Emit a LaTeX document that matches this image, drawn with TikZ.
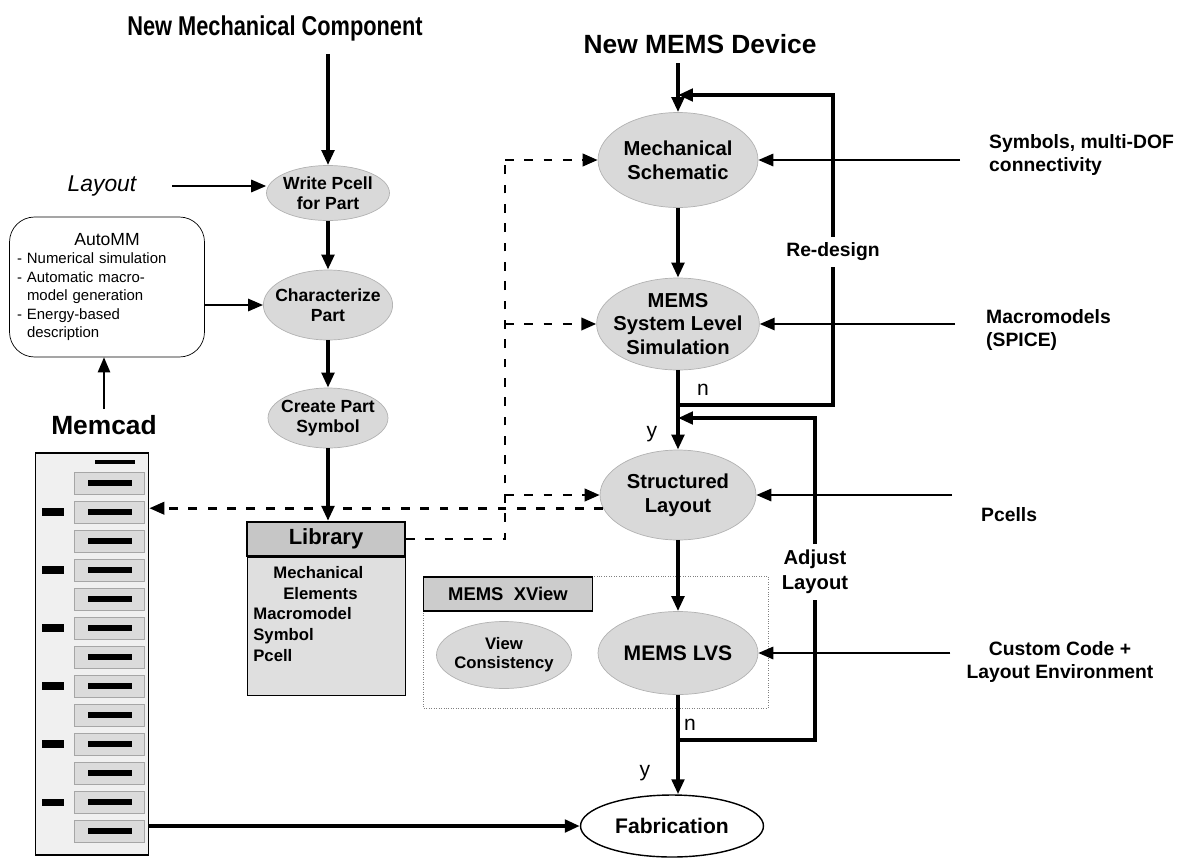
\documentclass[tikz,border=0pt]{standalone}
\usepackage{fontspec}
\setmainfont{Liberation Sans}
\usetikzlibrary{shapes.geometric,arrows.meta,positioning}

\begin{document}
\begin{tikzpicture}[x=0.02cm, y=-0.02cm,
    >={Triangle[length=8.5pt, width=7pt]},
    proc/.style = {ellipse, draw=gray!60, fill=gray!30, align=center, inner xsep=-4pt, inner ysep=-2pt, font=\bfseries\fontsize{11.5}{13.5}\selectfont},
    part/.style = {proc, font=\bfseries\fontsize{10}{11.5}\selectfont},
    side/.style = {align=left, font=\bfseries\fontsize{11}{13}\selectfont},
    yn/.style = {font=\fontsize{12}{14}\selectfont},
    flow/.style = {line width=2.3pt},
    dashlink/.style = {line width=1.6pt, dash pattern=on 5pt off 6pt}]
  \useasboundingbox (0,0) rectangle (1196,859);

  \node[font=\bfseries\fontsize{15.5}{17}\selectfont] (ttlcomp) at (275,28) {\scalebox{0.8}[1]{New Mechanical Component}};
  \node[font=\bfseries\fontsize{15}{17}\selectfont] (ttldev) at (700,44) {New MEMS Device};

  \node[part, minimum width=2.46cm, minimum height=1.1cm] (wp) at (328,193) {Write Pcell\\for Part};
  \node[part, minimum width=2.58cm, minimum height=1.4cm] (charpart) at (328,305) {Characterize\\Part};
  \node[part, minimum width=2.4cm, minimum height=1.2cm] (symb) at (328,418) {Create Part\\Symbol};
  \node[draw, fill=gray!25, minimum width=3.16cm, minimum height=2.76cm, anchor=north] (libbody) at (326,557) {};
  \node[draw, line width=1.2pt, fill=gray!45, minimum width=3.16cm, minimum height=0.68cm, anchor=south, font=\bfseries\fontsize{12.5}{14}\selectfont] (libhead) at (libbody.north) {Library};
  \node[anchor=west, align=left, inner sep=0pt, font=\bfseries\fontsize{9.5}{11.9}\selectfont] (libtext) at (253,614) {\hspace*{0.4cm}Mechanical\\\hspace*{0.6cm}Elements\\Macromodel\\Symbol\\Pcell};

  \node[font=\itshape\fontsize{13}{15}\selectfont] (layout) at (102,186) {Layout};
  \node[draw, rounded corners=0.5cm, minimum width=3.9cm, minimum height=2.8cm, text width=3.6cm, align=left, font=\fontsize{8.5}{10.5}\selectfont] (automm) at (107,287)
    {\makebox[3.6cm]{\fontsize{10}{12}\selectfont AutoMM}\\- Numerical simulation\\- Automatic macro-\\\hspace*{0.2cm}model generation\\- Energy-based\\\hspace*{0.2cm}description};
  \node[font=\bfseries\fontsize{15}{17}\selectfont] (memcad) at (104,425) {Memcad};

  \node[draw, line width=1pt, fill=gray!12, minimum width=2.26cm, minimum height=8.04cm] (panel) at (92,654) {};
  \draw[line width=2.5pt] (95,462) -- (135,462);
  \foreach \r in {0,...,12} {
    \draw[gray!70, fill=gray!28] (74,472+29*\r) rectangle (144,494+29*\r);
    \draw[line width=3pt] (88,483+29*\r) -- (132,483+29*\r);
  }
  \foreach \r in {1,3,...,11} \draw[line width=4pt] (42,483+29*\r) -- (64,483+29*\r);

  \node[proc, minimum width=3.2cm, minimum height=1.9cm] (ms) at (678,160) {Mechanical\\Schematic};
  \node[proc, minimum width=3.2cm, minimum height=1.84cm] (sls) at (678,324) {MEMS\\System Level\\Simulation};
  \node[proc, minimum width=3.12cm, minimum height=1.8cm] (sl) at (678,495) {Structured\\Layout};
  \draw[gray, densely dotted] (423,576) rectangle (768,708);
  \node[draw, thick, fill=gray!40, minimum width=3.38cm, minimum height=0.68cm, font=\bfseries\fontsize{10.5}{12}\selectfont] (xview) at (508,594) {MEMS\ \ XView};
  \node[proc, minimum width=2.7cm, minimum height=1.34cm, font=\bfseries\fontsize{9.5}{11}\selectfont] (vc) at (504,655) {View\\Consistency};
  \node[proc, minimum width=3.2cm, minimum height=1.66cm, font=\bfseries\fontsize{12}{14}\selectfont] (lvs) at (678,653) {MEMS LVS};
  \node[ellipse, draw, thick, fill=white, minimum width=3.66cm, minimum height=1.24cm, font=\bfseries\fontsize{12}{14}\selectfont] (fab) at (672,826) {Fabrication};

  \node[side, anchor=west] (symbols) at (983,155) {Symbols, multi-DOF\\connectivity};
  \node[side, anchor=west] (macro) at (980,330) {Macromodels\\(SPICE)};
  \node[side, anchor=west] (pcells) at (975,515) {Pcells};
  \node[side, align=center] (custom) at (1060,662) {Custom Code +\\Layout Environment};
  \node[font=\bfseries\fontsize{11}{13}\selectfont] (redesign) at (833,252) {Re-design};
  \node[font=\bfseries\fontsize{11.5}{14}\selectfont, align=center] (adjust) at (815,572) {Adjust\\Layout};
  \node[yn] (n1) at (703,390) {n};
  \node[yn] (y1) at (652,434) {y};
  \node[yn] (n2) at (690,725) {n};
  \node[yn] (y2) at (645,773) {y};

  \coordinate (rdin) at (678,95);
  \coordinate (rdout) at (678,405);
  \coordinate (adin) at (678,418);
  \coordinate (adout) at (678,740);
  \coordinate (dtop) at (505,160);

  \draw[->, flow, shorten <=4pt] (ttlcomp.south -| wp.north) -- (wp.north);
  \draw[->, flow] (wp) -- (charpart);
  \draw[->, flow] (charpart) -- (symb);
  \draw[->, flow] (symb.south) -- (symb.south |- libhead.north);
  \draw[->, very thick, shorten <=0.6cm] (layout.east) -- (layout.east -| wp.west);
  \draw[->, very thick] (automm.east |- charpart.west) -- (charpart.west);
  \draw[->, thick] (memcad.north) -- (memcad.north |- automm.south);
  \draw[->, line width=2.6pt] (panel.east |- fab.west) -- (fab.west);

  \draw[->, flow, shorten <=2pt] (ttldev.south -| ms.north) -- (ms.north);
  \draw[->, flow] (ms) -- (sls);
  \draw[->, flow] (sls) -- (sl);
  \draw[->, flow] (sl) -- (lvs);
  \draw[->, flow] (lvs.south) -- (lvs.south |- fab.north);
  \draw[flow] (rdout) -| (redesign.south);
  \draw[->, flow] (redesign.north) |- (rdin);
  \draw[flow] (adout) -| (adjust.south);
  \draw[->, flow] (adjust.north) |- (adin);

  \draw[->, very thick, shorten <=0.46cm] (ms.east -| symbols.west) -- (ms.east);
  \draw[->, very thick, shorten <=0.5cm] (sls.east -| macro.west) -- (sls.east);
  \draw[->, very thick, shorten <=0.46cm] (sl.east -| pcells.west) -- (sl.east);
  \draw[->, very thick, shorten <=0.2cm] (lvs.east -| custom.west) -- (lvs.east);

  \draw[dashlink] (libhead.east) -| (dtop);
  \draw[dashlink, ->] (dtop) -- (ms.west);
  \draw[dashlink, ->] (dtop |- sls.west) -- (sls.west);
  \draw[dashlink, ->] (dtop |- sl.west) -- (sl.west);
  \draw[dashlink, ->] (sl.190) -- (panel.east |- sl.190);
\end{tikzpicture}
\end{document}
